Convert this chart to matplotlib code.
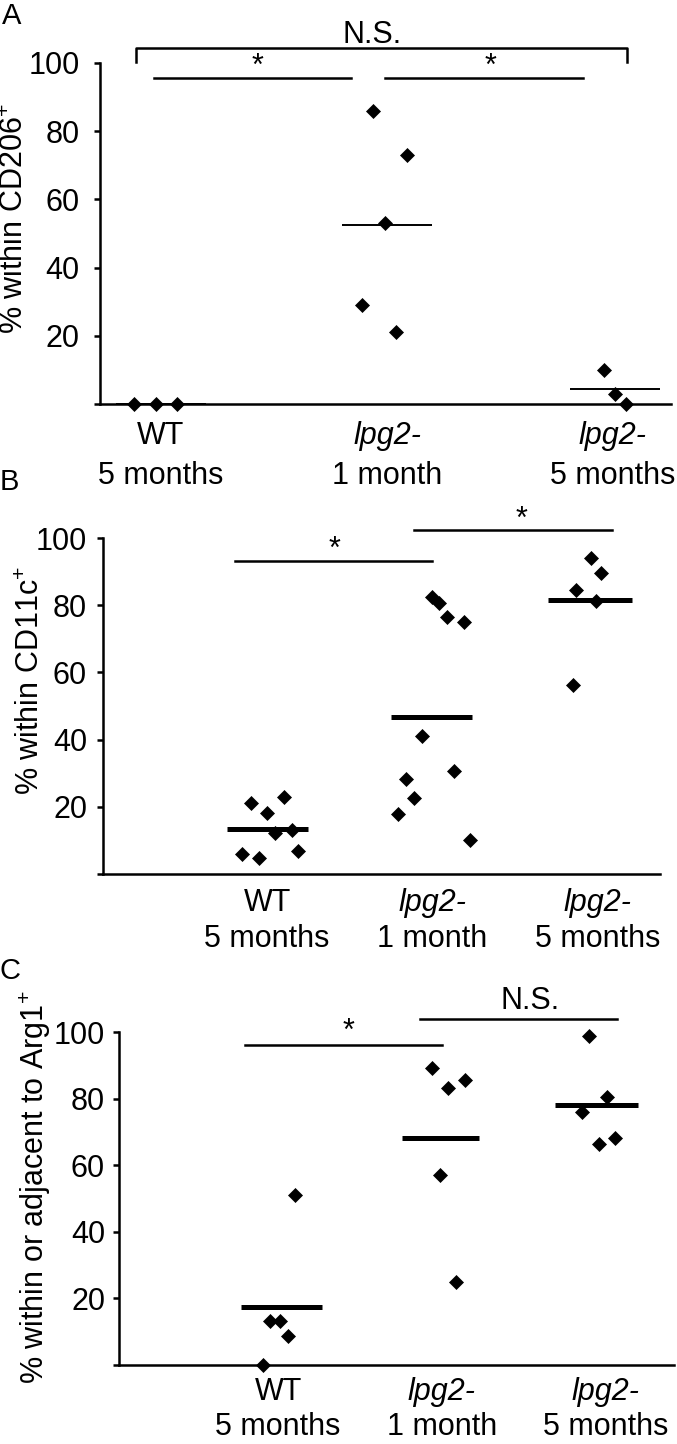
import matplotlib
matplotlib.use("Agg")
import matplotlib.pyplot as plt

plt.rcParams["font.family"] = ["Liberation Sans", "DejaVu Sans"]
plt.rcParams["mathtext.fontset"] = "custom"
plt.rcParams["mathtext.rm"] = "Liberation Sans"

# group labels (first line, second line)
group_names = ["WT", "lpg2-", "lpg2-"]
group_ages = ["5 months", "1 month", "5 months"]
yticks = [0, 20, 40, 60, 80, 100]

# A: % within CD206+
a_wt = [0, 0, 0]
a_wt_dx = [-0.12, -0.02, 0.07]
a_1m = [86, 73, 53, 29, 21]
a_1m_dx = [-0.06, 0.09, -0.01, -0.11, 0.04]
a_5m = [10, 3, 0]
a_5m_dx = [-0.04, 0.01, 0.06]
a_means = [0, 52.5, 4.3]

# B: % within CD11c+
b_wt = [21.1, 18.1, 23.0, 12.2, 13.2, 5.9, 4.7, 6.9]
b_wt_dx = [-0.10, 0.0, 0.10, 0.05, 0.15, -0.15, -0.05, 0.19]
b_1m = [82.4, 80.7, 76.5, 75.0, 41.1, 28.3, 22.6, 17.9, 30.8, 10.2]
b_1m_dx = [0.0, 0.04, 0.09, 0.19, -0.06, -0.16, -0.11, -0.21, 0.13, 0.23]
b_5m = [94.0, 89.5, 84.4, 81.2, 56.2]
b_5m_dx = [-0.04, 0.02, -0.13, -0.01, -0.15]
b_means = [13.4, 46.6, 81.4]

# C: % within or adjacent to Arg1+
c_wt = [51.1, 13.1, 13.1, 8.8, 0]
c_wt_dx = [0.10, -0.05, 0.01, 0.06, -0.09]
c_1m = [89.2, 83.2, 85.5, 57.1, 24.9]
c_1m_dx = [-0.06, 0.04, 0.14, -0.01, 0.09]
c_5m = [98.8, 80.6, 75.9, 66.4, 68.1]
c_5m_dx = [-0.10, 0.01, -0.14, -0.04, 0.06]
c_means = [17.4, 68.3, 78.1]

W, H = 677, 1444
FS = 22
fig = plt.figure(figsize=(W / 100, H / 100), dpi=100)


def make_axes(left, right, top, bottom):
    return fig.add_axes([left / W, 1 - bottom / H, (right - left) / W, (bottom - top) / H])


def draw_panel(ax, vals, dxs, means, spans, mean_lw, xlim, pad, lab_off):
    for i, (v, dx) in enumerate(zip(vals, dxs)):
        xs = [i + 1 + d for d in dx]
        ax.plot(xs, v, "D", color="black", ms=7, mew=0.5, clip_on=False, zorder=3)
    for i, (m, (lo, hi)) in enumerate(zip(means, spans)):
        ax.plot([i + 1 + lo, i + 1 + hi], [m, m], color="black", lw=mean_lw,
                solid_capstyle="butt", clip_on=False, zorder=2)
    ax.set_xlim(*xlim)
    ax.set_ylim(0, 100)
    ax.set_yticks(yticks)
    ax.set_yticklabels([""] + [str(t) for t in yticks[1:]])
    ax.set_xticks([])
    for s in ["top", "right"]:
        ax.spines[s].set_visible(False)
    for s in ["left", "bottom"]:
        ax.spines[s].set_linewidth(1.8)
    ax.tick_params(axis="y", direction="out", length=4.5, width=1.8, pad=pad, labelsize=FS)
    for i in range(3):
        style = "normal" if i == 0 else "italic"
        ax.annotate(group_names[i], xy=(i + 1, 0), xycoords=("data", "axes fraction"),
                    xytext=(0, -lab_off[0] * 0.72), textcoords="offset points",
                    ha="center", va="baseline", fontsize=FS, style=style)
        ax.annotate(group_ages[i], xy=(i + 1, 0), xycoords=("data", "axes fraction"),
                    xytext=(0, -lab_off[1] * 0.72), textcoords="offset points",
                    ha="center", va="baseline", fontsize=FS)


def sig_line(ax, x0, x1, y):
    ax.plot([x0, x1], [y, y], color="black", lw=1.8, clip_on=False)


# ---------- A ----------
axA = make_axes(100, 671, 63, 404)
draw_panel(axA, [a_wt, a_1m, a_5m], [a_wt_dx, a_1m_dx, a_5m_dx], a_means,
           [(-0.2, 0.2), (-0.2, 0.2), (-0.19, 0.21)], 1.4, (0.73, 3.257), 10, (40, 80))
axA.plot([0.889, 0.889, 3.062, 3.062], [100.3, 104.4, 104.4, 100.3], color="black",
         lw=1.8, clip_on=False)
sig_line(axA, 0.969, 1.841, 95.6)
sig_line(axA, 1.991, 2.867, 95.6)
axA.text(1.425, 96.5, "*", ha="center", va="baseline", fontsize=FS)
axA.text(2.456, 96.5, "*", ha="center", va="baseline", fontsize=FS)
axA.text(1.934, 105.9, "N.S.", ha="center", va="baseline", fontsize=FS)

# ---------- B ----------
axB = make_axes(103, 660, 538, 874)
draw_panel(axB, [b_wt, b_1m, b_5m], [b_wt_dx, b_1m_dx, b_5m_dx], b_means,
           [(-0.24, 0.25), (-0.25, 0.24), (-0.30, 0.21)], 3.6, (0.006, 3.38), 7, (37, 73))
sig_line(axB, 0.806, 2.0, 93.2)
sig_line(axB, 1.89, 3.09, 102.4)
axB.text(1.41, 94.0, "*", ha="center", va="baseline", fontsize=FS)
axB.text(2.54, 103.0, "*", ha="center", va="baseline", fontsize=FS)

# ---------- C ----------
axC = make_axes(119, 674, 1032, 1365)
draw_panel(axC, [c_wt, c_1m, c_5m], [c_wt_dx, c_1m_dx, c_5m_dx], c_means,
           [(-0.23, 0.27), (-0.24, 0.23), (-0.31, 0.20)], 3.6, (0.027, 3.42), 5.5, (35, 70))
sig_line(axC, 0.80, 2.0, 96.1)
sig_line(axC, 1.87, 3.07, 103.9)
axC.text(1.43, 97.6, "*", ha="center", va="baseline", fontsize=FS)
axC.text(2.54, 106.9, "N.S.", ha="center", va="baseline", fontsize=FS)

# y labels and panel letters
fig.text(15 / W, 1 - 219 / H, "% within CD206$^{+}$", rotation=90, ha="center", va="center", fontsize=FS)
fig.text(31 / W, 1 - 681 / H, "% within CD11c$^{+}$", rotation=90, ha="center", va="center", fontsize=FS)
fig.text(35 / W, 1 - 1187 / H, "% within or adjacent to Arg1$^{+}$", rotation=90, ha="center",
         va="center", fontsize=FS)
fig.text(12 / W, 1 - 16 / H, "A", ha="center", va="center", fontsize=21)
fig.text(9 / W, 1 - 482 / H, "B", ha="center", va="center", fontsize=21)
fig.text(10 / W, 1 - 971 / H, "C", ha="center", va="center", fontsize=21)

fig.savefig("out.png", dpi=100)
